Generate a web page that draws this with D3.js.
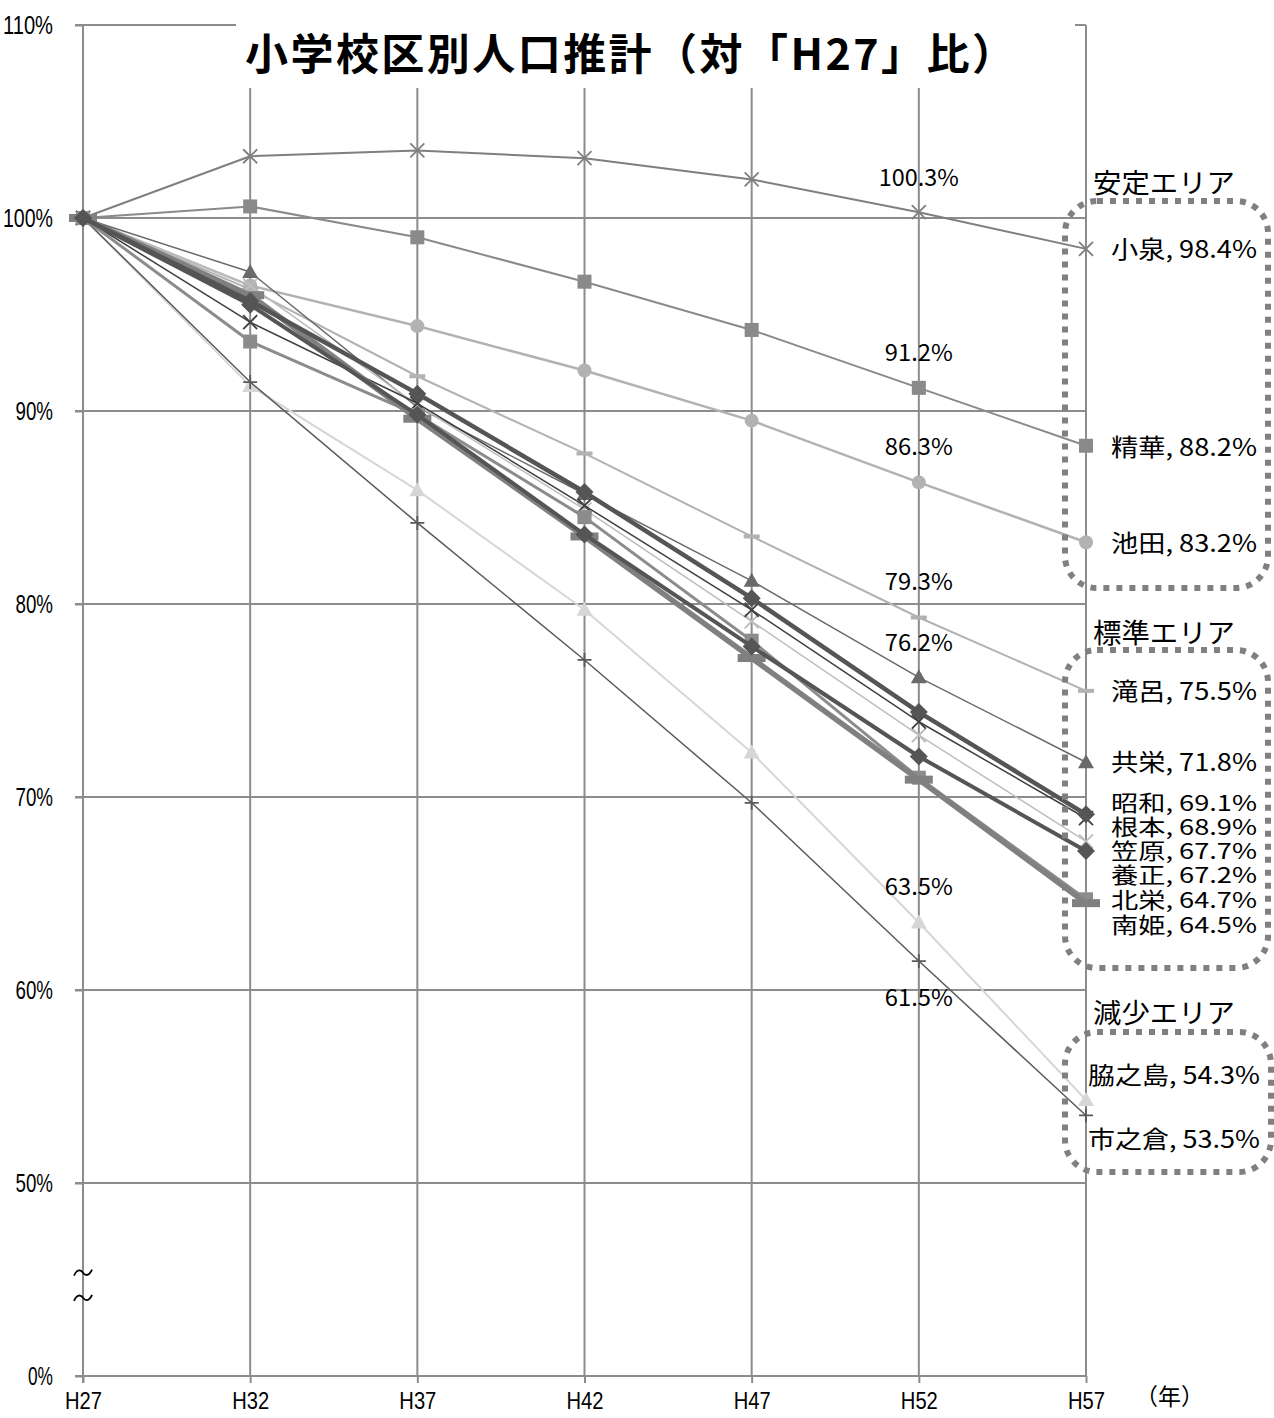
<!DOCTYPE html>
<html><head><meta charset="utf-8">
<script src="https://cdn.jsdelivr.net/npm/d3@7/dist/d3.min.js"></script>
<style>body{margin:0;background:#fff}svg{display:block}</style>
</head><body>
<svg id="c" width="1274" height="1418"></svg>
<script>
// ---- data ----
const categories = ["H27","H32","H37","H42","H47","H52","H57"];
const yTickValues = [40,50,60,70,80,90,100,110];
const yTickLabels = ["0%","50%","60%","70%","80%","90%","100%","110%"];
const koizumi  = [100,103.2,103.5,103.1,102.0,100.3,98.4];
const seika    = [100,100.6,99.0,96.7,94.2,91.2,88.2];
const ikeda    = [100,96.5,94.4,92.1,89.5,86.3,83.2];
const takiro   = [100,96.3,91.8,87.8,83.5,79.3,75.5];
const kyoei    = [100,97.2,90.2,85.7,81.2,76.2,71.8];
const showa    = [100,95.7,90.9,85.8,80.3,74.4,69.1];
const nemoto   = [100,94.6,90.4,85.1,79.7,73.9,68.9];
const kasahara = [100,96.5,90.3,84.9,79.1,73.2,67.7];
const yosei    = [100,95.5,89.8,83.6,77.8,72.1,67.2];
const hokuei   = [100,93.6,89.8,84.5,78.1,71.0,64.7];
const minamihime=[100,96.0,89.6,83.5,77.2,70.9,64.5];
const wakinoshima=[100,91.3,85.9,79.7,72.3,63.5,54.3];
const ichinokura=[100,91.5,84.2,77.1,69.7,61.5,53.5];
const areaTitles = ["安定エリア","標準エリア","減少エリア"];

const series = [
  {name:"小泉", v:koizumi, c:"#7f7f7f", w:2, m:"x"},
  {name:"精華", v:seika, c:"#8a8a8a", w:2, m:"square"},
  {name:"池田", v:ikeda, c:"#b2b2b2", w:2.5, m:"circle"},
  {name:"滝呂", v:takiro, c:"#b2b2b2", w:2, m:"dash"},
  {name:"共栄", v:kyoei, c:"#6a6a6a", w:1.5, m:"triangle"},
  {name:"笠原", v:kasahara, c:"#bdbdbd", w:1.5, m:"x"},
  {name:"根本", v:nemoto, c:"#3f3f3f", w:1.5, m:"x"},
  {name:"脇之島", v:wakinoshima, c:"#d6d6d6", w:2, m:"triangle"},
  {name:"市之倉", v:ichinokura, c:"#5a5a5a", w:1.5, m:"plus"},
  {name:"北栄", v:hokuei, c:"#8c8c8c", w:3, m:"square"},
  {name:"南姫", v:minamihime, c:"#808080", w:5.5, m:"dash"},
  {name:"養正", v:yosei, c:"#555555", w:4, m:"diamond"},
  {name:"昭和", v:showa, c:"#555555", w:4.5, m:"diamond"}
];

const svg = d3.select("#c");
const x = d3.scalePoint().domain(categories).range([83,1086]);
const y = d3.scaleLinear().domain([40,110]).range([1376,25]);
const grid = "#8c8c8c";
const numFont = "'Liberation Sans','Roboto',sans-serif";
const jpFont = "'Noto Sans CJK JP','Noto Sans CJK SC',sans-serif";

// horizontal gridlines
svg.append("g").selectAll("line").data(yTickValues.filter(d=>d>40)).join("line")
  .attr("x1",75).attr("x2",1086).attr("y1",d=>y(d)).attr("y2",d=>y(d))
  .attr("stroke",grid).attr("stroke-width",2);
// vertical gridlines
svg.append("g").selectAll("line").data(categories.slice(1)).join("line")
  .attr("x1",d=>x(d)).attr("x2",d=>x(d)).attr("y1",y(110)).attr("y2",y(40))
  .attr("stroke",grid).attr("stroke-width",2);

// axes
const yAxis = svg.append("g").attr("transform","translate(83,0)")
  .call(d3.axisLeft(y).tickValues(yTickValues).tickFormat((d,i)=>yTickLabels[i]).tickSize(8).tickPadding(22));
const xAxis = svg.append("g").attr("transform",`translate(0,${y(40)})`)
  .call(d3.axisBottom(x).tickSize(7).tickPadding(9));
[yAxis,xAxis].forEach(a=>{
  a.select(".domain").attr("stroke",grid).attr("stroke-width",2);
  a.selectAll(".tick line").attr("stroke",grid).attr("stroke-width",2);
  a.selectAll("text").attr("fill","#000").style("font-family",numFont)
    .attr("lengthAdjust","spacingAndGlyphs");
});
yAxis.selectAll(".tick text").style("font-size","26px").attr("textLength",function(){return this.textContent.length*12.5;});
xAxis.selectAll(".tick text").style("font-size","24px").attr("textLength",37);
yAxis.select(".domain").attr("d",`M0,${y(110)}V${y(40)+7}`);
xAxis.select(".domain").attr("d",`M${83-8},0H1086`);

// break marks
[45.3,44.0].forEach(v=>{
  svg.append("path").attr("transform",`translate(83,${y(v)})`)
    .attr("d","M-9,2 C-6,-5 -2,-4 0,-1 C2,2 6,3 9,-4").attr("fill","none").attr("stroke","#000").attr("stroke-width",1.8);
});

// title box
svg.append("rect").attr("x",236).attr("y",0).attr("width",839).attr("height",88).attr("fill","#fff");
svg.append("text").attr("x",630).attr("y",70).attr("text-anchor","middle")
  .attr("textLength",770).attr("lengthAdjust","spacing")
  .style("font-family",jpFont).style("font-weight","bold").style("font-size","43px")
  .text("小学校区別人口推計（対「H27」比）");

// lines
const line = d3.line().x((d,i)=>x(categories[i])).y(d=>y(d));
function marker(g, s, px, py){
  const c=s.c;
  if(s.m==="square") g.append("rect").attr("x",px-7).attr("y",py-7).attr("width",14).attr("height",14).attr("fill",c);
  else if(s.m==="diamond") g.append("path").attr("d",`M${px},${py-9}L${px+9},${py}L${px},${py+9}L${px-9},${py}Z`).attr("fill",c);
  else if(s.m==="triangle") g.append("path").attr("d",`M${px},${py-8}L${px+8},${py+6}L${px-8},${py+6}Z`).attr("fill",c);
  else if(s.m==="circle") g.append("circle").attr("cx",px).attr("cy",py).attr("r",7).attr("fill",c);
  else if(s.m==="x") g.append("path").attr("d",`M${px-7},${py-7}L${px+7},${py+7}M${px+7},${py-7}L${px-7},${py+7}`).attr("stroke",c).attr("stroke-width",1.8);
  else if(s.m==="plus") g.append("path").attr("d",`M${px-7},${py}H${px+7}M${px},${py-7}V${py+7}`).attr("stroke",c).attr("stroke-width",1.8);
  else if(s.m==="dash") g.append("rect").attr("x",px-(s.w>3?14:8)).attr("y",py-(s.w>3?4:2)).attr("width",s.w>3?28:16).attr("height",s.w>3?8:4).attr("fill",c);
}
series.forEach(s=>{
  const g = svg.append("g");
  g.append("path").datum(s.v).attr("d",line).attr("fill","none").attr("stroke",s.c).attr("stroke-width",s.w).attr("stroke-linejoin","round");
  s.v.forEach((v,i)=>marker(g,s,x(categories[i]),y(v)));
});

// H52 data labels
const labelled = [["小泉",-34],["精華",-35],["池田",-35],["滝呂",-36],["共栄",-34],["脇之島",-36],["市之倉",37]];
labelled.forEach(([n,off])=>{
  const s = series.find(d=>d.name===n);
  const v = s.v[5];
  svg.append("text").attr("x",x("H52")).attr("y",y(v)+off).attr("dy","0.35em").attr("text-anchor","middle")
    .attr("textLength", v>=100?80:68).attr("lengthAdjust","spacingAndGlyphs")
    .style("font-family",jpFont).style("font-size","23px").text(v.toFixed(1)+"%");
});

// area boxes
const boxes = [[1065,201,203,387,193],[1065,650,203,318,643],[1065,1032,206,140,1023]];
boxes.forEach((b,i)=>{
  svg.append("rect").attr("x",b[0]).attr("y",b[1]).attr("width",b[2]).attr("height",b[3]).attr("rx",32)
    .attr("fill","none").attr("stroke","#808080").attr("stroke-width",6).attr("stroke-dasharray","6 7");
  svg.append("text").attr("x",1093).attr("y",b[4]).attr("textLength",142).attr("lengthAdjust","spacingAndGlyphs")
    .style("font-family",jpFont).style("font-size","27px").text(areaTitles[i]);
});

// end labels (right side)
const endLabelY = {"小泉":249,"精華":447,"池田":543,"滝呂":691,"共栄":762,"昭和":803,"根本":827,"笠原":851,"養正":875,"北栄":900,"南姫":925,"脇之島":1075,"市之倉":1139};
const stacked = ["昭和","根本","笠原","養正","北栄","南姫"];
series.forEach(s=>{
  const last = s.v[s.v.length-1];
  const txt = s.name+", "+last.toFixed(1)+"%";
  const long = s.name.length>2;
  const tight = stacked.includes(s.name);
  svg.append("text").attr("x",long?1260:1257).attr("y",endLabelY[s.name]).attr("dy","0.36em").attr("text-anchor","end")
    .attr("textLength",long?172:146).attr("lengthAdjust","spacingAndGlyphs")
    .style("font-family",jpFont).style("font-size",tight?"22px":"24px").text(txt);
});

// unit
svg.append("text").attr("x",1135).attr("y",1397).attr("dy","0.35em")
  .style("font-family",jpFont).style("font-size","23px").text("（年）");
</script>
</body></html>
